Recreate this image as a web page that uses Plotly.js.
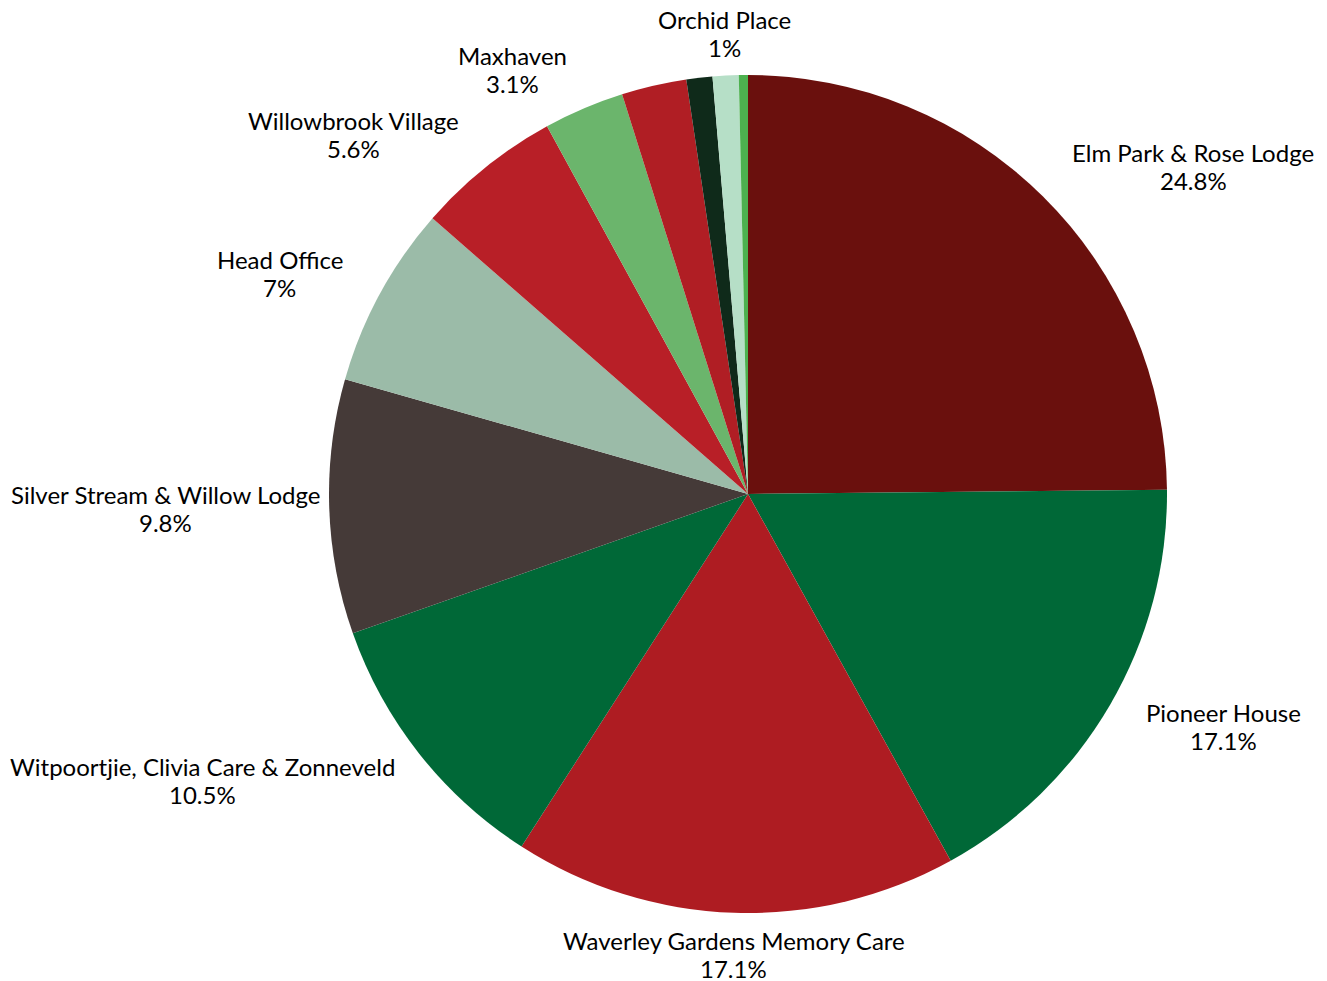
<!DOCTYPE html>
<html>
<head>
<meta charset="utf-8">
<script src="https://cdn.plot.ly/plotly-3.0.1.min.js"></script>
<style>html,body{margin:0;padding:0;background:#fff;}#chart{width:1327px;height:981px;}</style>
</head>
<body>
<div id="chart"></div>
<script>
// Data (percent of total), clockwise from 12 o'clock
const labels = [
  "Elm Park & Rose Lodge",
  "Pioneer House",
  "Waverley Gardens Memory Care",
  "Witpoortjie, Clivia Care & Zonneveld",
  "Silver Stream & Willow Lodge",
  "Head Office",
  "Willowbrook Village",
  "Maxhaven",
  "Other site A",
  "Other site B",
  "Orchid Place",
  "Other site C"
];
const values = [24.8, 17.1, 17.1, 10.5, 9.8, 7, 5.6, 3.1, 2.5, 1.0, 1, 0.35];
const showLabel = [true, true, true, true, true, true, true, true, false, false, true, false];
const colors = ["#6A100D", "#006837", "#AE1C22", "#006837", "#453A38", "#9BBBA8",
                "#B81F27", "#6BB56C", "#B01E24", "#0F2A1A", "#B6DFC7", "#4DB14F"];

const W = 1327, H = 981;
const cxPx = 748, cyPx = 494, R = 419;
const FONT_SIZE = 24, LINE = 28, EDGE = 10;
const FONT_FAMILY = 'Lato';
const dom = {
  x: [(cxPx - R) / W, (cxPx + R) / W],
  y: [(H - cyPx - R) / H, (H - cyPx + R) / H]
};

const ctx = document.createElement('canvas').getContext('2d');
ctx.font = FONT_SIZE + 'px ' + FONT_FAMILY;
const measure = t => ctx.measureText(t).width;

const total = values.reduce((a, b) => a + b, 0);
const annotations = [];
let cum = 0;
values.forEach((v, i) => {
  const mid = (cum + v / 2) / total * 2 * Math.PI;
  cum += v;
  if (!showLabel[i]) return;
  const s = Math.sin(mid), c = Math.cos(mid);
  const name = labels[i], pct = values[i] + '%';
  const w = Math.max(measure(name), measure(pct));
  let boxCx, yName, yPct;
  if (Math.abs(s) > 0.3) {
    const r = R + 42;
    const px = cxPx + s * r, py = cyPx - c * r;
    boxCx = s > 0 ? px + w / 2 : px - w / 2;
    yName = py - LINE / 2; yPct = py + LINE / 2;
  } else {
    const r = R + 14;
    const px = cxPx + s * r, py = cyPx - c * r;
    boxCx = px;
    if (c > 0) { yPct = py - LINE / 2; yName = py - 3 * LINE / 2; }
    else { yName = py + LINE / 2; yPct = py + 3 * LINE / 2; }
  }
  boxCx = Math.min(Math.max(boxCx, EDGE + w / 2), W - EDGE - w / 2);
  [[name, yName], [pct, yPct]].forEach(([t, y]) => {
    annotations.push({
      x: boxCx / W, y: (H - y) / H, xref: 'paper', yref: 'paper',
      text: t, showarrow: false, align: 'center',
      xanchor: 'center', yanchor: 'middle',
      font: {family: FONT_FAMILY + ', "Open Sans", sans-serif', size: FONT_SIZE, color: '#000'}
    });
  });
});

Plotly.newPlot('chart', [{
  type: 'pie',
  labels: labels,
  values: values,
  sort: false,
  direction: 'clockwise',
  rotation: 0,
  textinfo: 'none',
  hoverinfo: 'label+value',
  marker: {colors: colors, line: {width: 0}},
  domain: dom
}], {
  width: W, height: H,
  margin: {l: 0, r: 0, t: 0, b: 0},
  showlegend: false,
  paper_bgcolor: '#fff',
  annotations: annotations
}, {displayModeBar: false, staticPlot: true});
</script>
</body>
</html>
